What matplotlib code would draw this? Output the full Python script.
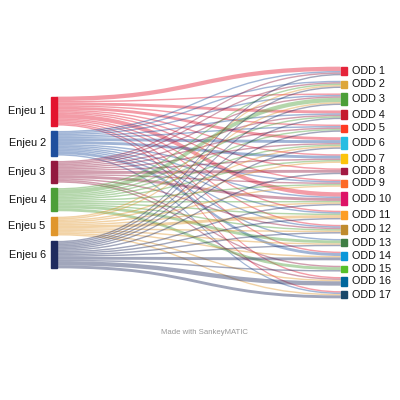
import matplotlib
matplotlib.use("Agg")
import matplotlib.pyplot as plt
from matplotlib.patches import Rectangle, PathPatch
from matplotlib.path import Path
import numpy as np

plt.rcParams['font.family'] = ['Liberation Sans', 'DejaVu Sans']

sources = ["Enjeu 1", "Enjeu 2", "Enjeu 3", "Enjeu 4", "Enjeu 5", "Enjeu 6"]
targets = ["ODD %d" % i for i in range(1, 18)]
src_colors = ["#e3142f", "#1f4f9e", "#93193f", "#4c9f38", "#e0962c", "#1f2b5e"]
tgt_colors = ["#e5243b", "#dda63a", "#4c9f38", "#c5192d", "#ff3a21", "#26bde2",
              "#fcc30b", "#a21942", "#fd6925", "#dd1367", "#fd9d24", "#bf8b2e",
              "#3f7e44", "#0a97d9", "#56c02b", "#00689d", "#19486a"]

# flows: rows = Enjeu, columns = ODD 1..17
flows = np.array([
    [3, 0, 1, 2, 1, 2, 1, 1, 1, 3, 1, 1, 0, 1, 0, 1, 1],
    [1, 1, 1, 1, 1, 2, 2, 0, 1, 1, 1, 1, 1, 2, 0, 0, 1],
    [1, 1, 1, 1, 1, 1, 1, 2, 1, 2, 0, 1, 0, 0, 1, 1, 0],
    [0, 1, 3, 1, 1, 1, 1, 0, 1, 1, 1, 1, 2, 0, 2, 0, 0],
    [0, 1, 1, 0, 0, 1, 1, 0, 1, 1, 2, 1, 1, 1, 0, 1, 1],
    [1, 1, 1, 1, 1, 1, 0, 1, 0, 1, 1, 1, 1, 2, 1, 3, 2],
])

fig = plt.figure(figsize=(4, 4), dpi=100)
ax = fig.add_axes([0, 0, 1, 1])
ax.set_xlim(0, 400)
ax.set_ylim(400, 0)
ax.axis("off")

scale = 1.445
gap = 5.45
center = 182.5
xl0, xl1 = 50.7, 56.7
xr0, xr1 = 340.7, 346.7


def node_tops(totals):
    span = totals.sum() * scale + gap * (len(totals) - 1)
    tops = []
    y = center - span / 2
    for t in totals:
        tops.append(y)
        y += t * scale + gap
    return tops


src_tot = flows.sum(axis=1)
tgt_tot = flows.sum(axis=0)
src_top = node_tops(src_tot)
tgt_top = node_tops(tgt_tot)

# where each link leaves the source (ordered by target)
src_pos = {}
for i in range(len(sources)):
    y = src_top[i]
    for j in range(len(targets)):
        if flows[i, j]:
            src_pos[(i, j)] = y
            y += flows[i, j] * scale
# where each link arrives at the target (ordered by source)
tgt_pos = {}
for j in range(len(targets)):
    y = tgt_top[j]
    for i in range(len(sources)):
        if flows[i, j]:
            tgt_pos[(i, j)] = y
            y += flows[i, j] * scale

xm = (xl1 + xr0) / 2
for (i, j), ys in src_pos.items():
    yt = tgt_pos[(i, j)]
    h = flows[i, j] * scale
    verts = [(xl1, ys), (xm, ys), (xm, yt), (xr0, yt),
             (xr0, yt + h), (xm, yt + h), (xm, ys + h), (xl1, ys + h), (xl1, ys)]
    codes = [Path.MOVETO, Path.CURVE4, Path.CURVE4, Path.CURVE4,
             Path.LINETO, Path.CURVE4, Path.CURVE4, Path.CURVE4, Path.CLOSEPOLY]
    ax.add_patch(PathPatch(Path(verts, codes), facecolor=src_colors[i],
                           edgecolor="none", alpha=0.42))

for i, name in enumerate(sources):
    h = src_tot[i] * scale
    ax.add_patch(Rectangle((xl0, src_top[i]), xl1 - xl0, h, color=src_colors[i]))
    ax.text(xl0 - 5, src_top[i] + h / 2, name, ha="right", va="center",
            fontsize=7.8, color="#111111")

for j, name in enumerate(targets):
    h = tgt_tot[j] * scale
    ax.add_patch(Rectangle((xr0, tgt_top[j]), xr1 - xr0, h, color=tgt_colors[j]))
    ax.text(xr1 + 5, tgt_top[j] + h / 2, name, ha="left", va="center",
            fontsize=7.8, color="#111111")

ax.text(204, 333, "Made with SankeyMATIC", ha="center", va="center",
        fontsize=5.6, color="#999999")

fig.savefig("out.png", dpi=100)
